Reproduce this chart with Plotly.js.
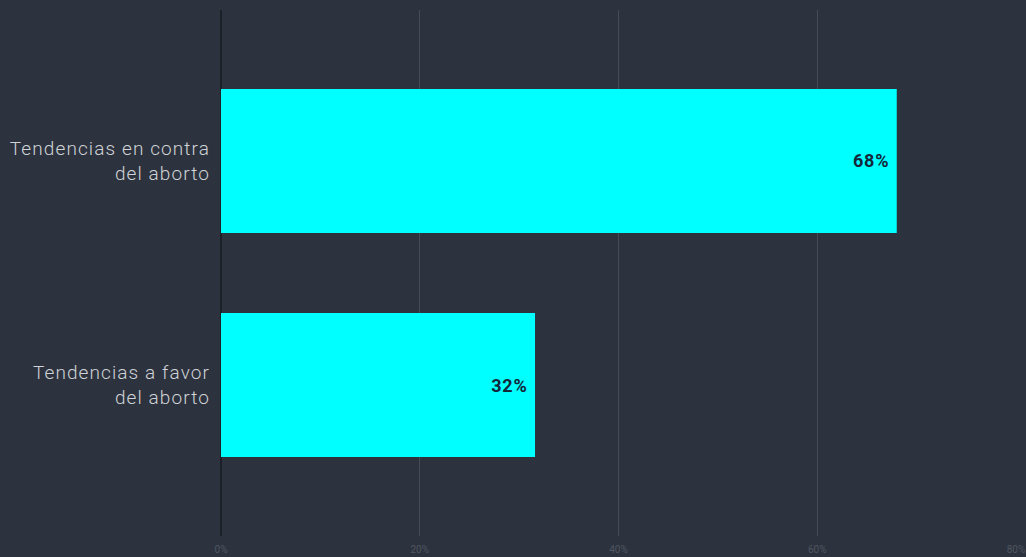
<!DOCTYPE html>
<html>
<head>
<meta charset="utf-8">
<script src="https://cdn.plot.ly/plotly-3.0.1.min.js"></script>
<style>
html,body{margin:0;padding:0;background:#2d333e;}
#chart{width:1026px;height:557px;}
.ytick text{letter-spacing:1.1px;}
.bartext text, text.bartext{letter-spacing:0.8px;}
</style>
</head>
<body>
<div id="chart"></div>
<script>
const categories = ["Tendencias a favor<br>del aborto", "Tendencias en contra<br>del aborto"];
const values = [31.6, 68];
const labels = ["32%", "68%"];
const tickVals = [0, 20, 40, 60, 80];
const tickText = ["0%", "20%", "40%", "60%", "80%"];

const trace = {
  type: "bar",
  orientation: "h",
  y: categories,
  x: values,
  text: labels,
  texttemplate: "%{text}\u2009",
  textposition: "inside",
  insidetextanchor: "end",
  textangle: 0,
  textfont: {family: "Roboto, sans-serif", size: 18, color: "#13263a", weight: 700},
  marker: {color: "#00ffff"},
  width: 0.643,
  hoverinfo: "none",
  cliponaxis: false
};

const layout = {
  width: 1026, height: 557,
  paper_bgcolor: "#2d333e",
  plot_bgcolor: "#2d333e",
  margin: {l: 221, r: 10, t: 10, b: 21},
  showlegend: false,
  xaxis: {
    range: [0, 80],
    tickvals: tickVals,
    ticktext: tickText,
    showgrid: true,
    gridcolor: "#464c57",
    gridwidth: 1,
    zeroline: true,
    zerolinecolor: "#1c2027",
    zerolinewidth: 2,
    tickfont: {family: "Roboto, sans-serif", size: 10, color: "#4f5561"},
    ticks: "",
    ticklabelstandoff: 6,
    fixedrange: true
  },
  yaxis: {
    type: "category",
    categoryorder: "array",
    categoryarray: categories,
    range: [-0.674, 1.674],
    showgrid: false,
    zeroline: false,
    ticks: "",
    ticklabelstandoff: 10,
    tickfont: {family: "Roboto, sans-serif", size: 19, color: "#cfd2d6", weight: 300},
    fixedrange: true
  }
};

Plotly.newPlot("chart", [trace], layout, {displayModeBar: false, staticPlot: true});
</script>
</body>
</html>
